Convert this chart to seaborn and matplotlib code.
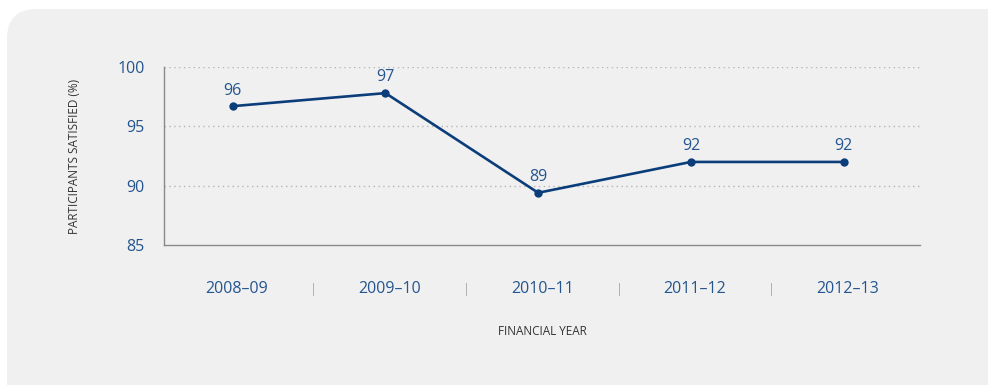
import matplotlib
matplotlib.use("Agg")
import matplotlib.pyplot as plt
from matplotlib.patches import FancyBboxPatch
from matplotlib.ticker import FixedLocator, FixedFormatter
from matplotlib.transforms import ScaledTranslation
import seaborn as sns
import pandas as pd
import numpy as np

# Participant satisfaction by financial year
years = ["2008\u201309", "2009\u201310", "2010\u201311", "2011\u201312", "2012\u201313"]
satisfied = [96.7, 97.8, 89.4, 92.0, 92.0]
y_ticks = [85, 90, 95, 100]

LINE = "#0b3d7a"
TEXT_BLUE = "#24558f"
GREY_TEXT = "#333333"
AXIS_GREY = "#8a8a8a"
PANEL = "#f0f0f0"

sns.set_theme(style="white")
plt.rcParams["font.family"] = ["Open Sans", "DejaVu Sans"]

df = pd.DataFrame({"year": years, "pos": np.arange(len(years)), "satisfied": satisfied})

fig = plt.figure(figsize=(9.88, 3.85), dpi=100)
fig.patch.set_facecolor("white")

# rounded grey panel behind the chart
panel = FancyBboxPatch((7 / 988, -0.2), 1.2, 1.2 - 9 / 385,
                       boxstyle="round,pad=0,rounding_size=0.03",
                       transform=fig.transFigure, facecolor=PANEL,
                       edgecolor="none", zorder=-5, mutation_aspect=988 / 385)
fig.patches.append(panel)

ax = fig.add_axes([164 / 988, 1 - 245 / 385, (920 - 164) / 988, (245 - 67) / 385])
ax.set_facecolor("none")
ax.set_zorder(2)

sns.lineplot(data=df, x="pos", y="satisfied", ax=ax, color=LINE, linewidth=1.9,
             marker="o", markersize=6, markeredgewidth=0, zorder=3)

for xp, v in zip(df["pos"], df["satisfied"]):
    ax.annotate(f"{int(v)}", (xp, v), xytext=(0, 5.5), textcoords="offset points",
                ha="center", va="bottom", fontsize=11.5, color=TEXT_BLUE)

ax.set_xlim(-0.45, 4.5)
ax.set_ylim(85, 100)
ax.set_yticks(y_ticks)
ax.set_yticklabels([str(t) for t in y_ticks])
ax.set_xticks(df["pos"])
ax.set_xticklabels(years)

# thin separators between the year labels
ax.xaxis.set_minor_locator(FixedLocator([0.53, 1.53, 2.53, 3.53]))
ax.xaxis.set_minor_formatter(FixedFormatter(["|"] * 4))
ax.tick_params(axis="x", which="minor", length=0, pad=27, labelsize=9, labelcolor="#aaaaaa")
ax.tick_params(axis="x", which="major", length=0, pad=26, labelsize=11.5, labelcolor=TEXT_BLUE)
ax.tick_params(axis="y", length=0, pad=14, labelsize=11.5, labelcolor=TEXT_BLUE)

# year labels sit slightly right of their points
shift = ScaledTranslation(4 / 100, 0, fig.dpi_scale_trans)
for lbl in ax.get_xticklabels():
    lbl.set_transform(lbl.get_transform() + shift)

for yv in [90, 95, 100]:
    ax.axhline(yv, color="#b5b5b5", linestyle=(0, (1, 2.5)), linewidth=1.0, zorder=1)

for side in ["top", "right"]:
    ax.spines[side].set_visible(False)
for side in ["left", "bottom"]:
    ax.spines[side].set_color(AXIS_GREY)
    ax.spines[side].set_linewidth(1.0)

ax.set_xlabel("FINANCIAL YEAR", fontsize=8.5, color=GREY_TEXT, labelpad=20)
ax.set_ylabel("PARTICIPANTS SATISFIED (%)", fontsize=8.5, color=GREY_TEXT, labelpad=26)

fig.savefig("out.png", dpi=100, facecolor="white")
